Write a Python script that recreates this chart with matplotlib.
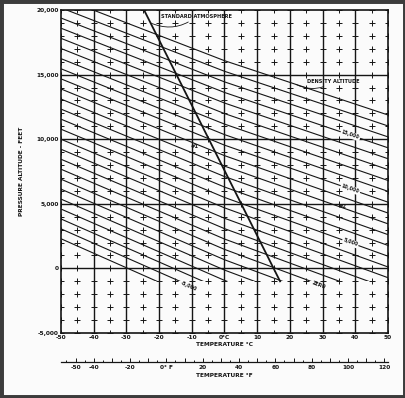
import numpy as np
import matplotlib
matplotlib.use("Agg")
import matplotlib.pyplot as plt
from matplotlib.patches import Rectangle

# Lignes d'altitude-densité (ft) : altitude-pression lue à -50, 0 et 50 °C
da_levels = list(range(-6000, 19000, 1000))
temps_ref = [-50, 0, 50]
pa_at_m50 = [2295, 3061, 3827, 4595, 5364, 6134, 6905, 7677, 8449, 9223,
             9998, 10774, 11551, 12329, 13108, 13888, 14670, 15452, 16235,
             17020, 17806, 18592, 19380, 20170, 20960]
pa_at_0 = [-3319, -2523, -1726, -928, -129, 670, 1472, 2274, 3077, 3881,
           4686, 5493, 6300, 7109, 7919, 8729, 9541, 10355, 11169, 11984,
           12800, 13618, 14437, 15257, 16078]
pa_at_50 = [-8154, -7331, -6509, -5685, -4860, -4034, -3207, -2379, -1550,
            -720, 112, 945, 1778, 2613, 3449, 4286, 5125, 5964, 6805, 7646,
            8489, 9334, 10179, 11026, 11874]

# Atmosphère standard
std_temp = [17, -24.6]
std_pa = [-1000, 20000]

# Axes et graduations
c_ticks = list(range(-50, 51, 10))
c_labels = ["-50", "-40", "-30", "-20", "-10", "0°C", "10", "20", "30", "40", "50"]
pa_ticks = [-5000, 0, 5000, 10000, 15000, 20000]
pa_labels = ["-5,000", "0", "5,000", "10,000", "15,000", "20,000"]
f_ticks = list(range(-50, 121, 10))
f_labels = {-50: "-50", -40: "-40", -20: "-20", 0: "0° F", 20: "20", 40: "40",
            60: "60", 80: "80", 100: "100", 120: "120"}

# Étiquettes posées sur les lignes
inline_levels = [5000, 10000, 15000]
inline_text = ["5,000", "10,000", "15,000"]
end_levels = [0, -5000]
end_text = ["ZERO", "-5,000"]
end_temp = [28.8, -11.0]

ink = "#151515"
fs = 4.2

fig = plt.figure(figsize=(4.06, 3.98), dpi=100, facecolor="#fbfbfb")
ax = fig.add_axes([61 / 406, 1 - 333 / 398, 327 / 406, 323 / 398])
ax.set_facecolor("#fbfbfb")
ax.set_xlim(-50, 50)
ax.set_ylim(-5000, 20000)

# Croix de repérage
tt, pp = np.meshgrid(np.arange(-50, 51, 5), np.arange(-5000, 20001, 1000))
ax.plot(tt.ravel(), pp.ravel(), "+", color=ink, ms=4.6, mew=0.7, zorder=1)

# Quadrillage principal
ax.vlines(c_ticks[1:-1], -5000, 20000, color=ink, lw=1.0, zorder=2)
ax.hlines([0, 5000, 10000, 15000], -50, 50, color=ink, lw=1.0, zorder=2)

# Lignes d'altitude-densité, coupées sous -1000 ft
clip = Rectangle((-50, -1000), 100, 21000, transform=ax.transData)
lines_pa = {}
for i, da in enumerate(da_levels):
    pa = [pa_at_m50[i], pa_at_0[i], pa_at_50[i]]
    lines_pa[da] = pa
    ln, = ax.plot(temps_ref, pa, color=ink, lw=0.8, zorder=3)
    ln.set_clip_path(clip)

ax.plot(std_temp, std_pa, color=ink, lw=1.3, zorder=4)


def angle_at(da, t):
    pa = lines_pa[da]
    p1 = ax.transData.transform((t - 2, np.interp(t - 2, temps_ref, pa)))
    p2 = ax.transData.transform((t + 2, np.interp(t + 2, temps_ref, pa)))
    return np.degrees(np.arctan2(p2[1] - p1[1], p2[0] - p1[0]))


for da, txt in zip(inline_levels, inline_text):
    t = 38.5
    ax.text(t, np.interp(t, temps_ref, lines_pa[da]), txt, fontsize=3.4,
            fontweight="bold", color=ink, ha="center", va="center",
            rotation=angle_at(da, t), zorder=5,
            bbox=dict(facecolor="#fbfbfb", edgecolor="none", pad=0.6))

for da, txt, t in zip(end_levels, end_text, end_temp):
    ax.text(t, np.interp(t, temps_ref, lines_pa[da]) - 80, txt, fontsize=3.4,
            fontweight="bold", color=ink, ha="center", va="center",
            rotation=angle_at(da, t), zorder=5)

ax.annotate("STANDARD ATMOSPHERE", xy=(np.interp(19000, std_pa, std_temp), 19000),
            xytext=(-19.5, 19480), fontsize=3.6, fontweight="bold", color=ink,
            ha="left", va="center",
            arrowprops=dict(arrowstyle="-", lw=0.6, color=ink,
                            connectionstyle="arc3,rad=-0.3", shrinkA=0, shrinkB=0))
ax.annotate("DENSITY ALTITUDE", xy=(21.9, np.interp(21.9, temps_ref, lines_pa[18000])),
            xytext=(25.3, 14480), fontsize=3.6, fontweight="bold", color=ink,
            ha="left", va="center",
            arrowprops=dict(arrowstyle="-", lw=0.6, color=ink,
                            connectionstyle="arc3,rad=-0.3", shrinkA=0, shrinkB=0))

ax.text(-9.0, 9400, "#1", fontsize=3.8, fontweight="bold", color=ink,
        ha="center", va="center", zorder=5)
ax.text(36.2, 4770, "#2", fontsize=3.8, fontweight="bold", color=ink,
        ha="center", va="center", zorder=5)

ax.set_xticks(c_ticks)
ax.set_xticklabels(c_labels)
ax.set_yticks(pa_ticks)
ax.set_yticklabels(pa_labels)
ax.tick_params(length=0, labelsize=fs, colors=ink, pad=1.5)
for lab in ax.get_xticklabels() + ax.get_yticklabels():
    lab.set_fontweight("bold")
for sp in ax.spines.values():
    sp.set_linewidth(1.2)
    sp.set_color(ink)
ax.set_xlabel("TEMPERATURE °C", fontsize=fs, fontweight="bold", color=ink, labelpad=1.2)
ax.set_ylabel("PRESSURE ALTITUDE - FEET", fontsize=fs, fontweight="bold", color=ink)
ax.yaxis.set_label_coords(-0.112, 0.5)

# Échelle Fahrenheit
axf = fig.add_axes([61 / 406, 1 - 362 / 398, 327 / 406, 0.0001])
axf.patch.set_visible(False)
axf.set_xlim(-58, 122)
for side in ["left", "right", "top"]:
    axf.spines[side].set_visible(False)
axf.spines["bottom"].set_linewidth(0.9)
axf.spines["bottom"].set_color(ink)
axf.set_yticks([])
axf.set_xticks(f_ticks)
axf.set_xticklabels([f_labels.get(v, "") for v in f_ticks])
axf.set_xticks(list(range(-55, 121, 10)), minor=True)
axf.tick_params(axis="x", which="major", direction="in", length=3.2, width=0.7,
                labelsize=fs, colors=ink, pad=2)
axf.tick_params(axis="x", which="minor", direction="in", length=1.8, width=0.7,
                colors=ink)
for lab in axf.get_xticklabels():
    lab.set_fontweight("bold")
axf.set_xlabel("TEMPERATURE °F", fontsize=fs, fontweight="bold", color=ink, labelpad=2)

fig.patches.append(Rectangle((0, 0), 1, 1, transform=fig.transFigure, fill=False,
                             edgecolor="#3c3c3c", lw=5))

fig.savefig("out.png", dpi=100, facecolor=fig.get_facecolor())
